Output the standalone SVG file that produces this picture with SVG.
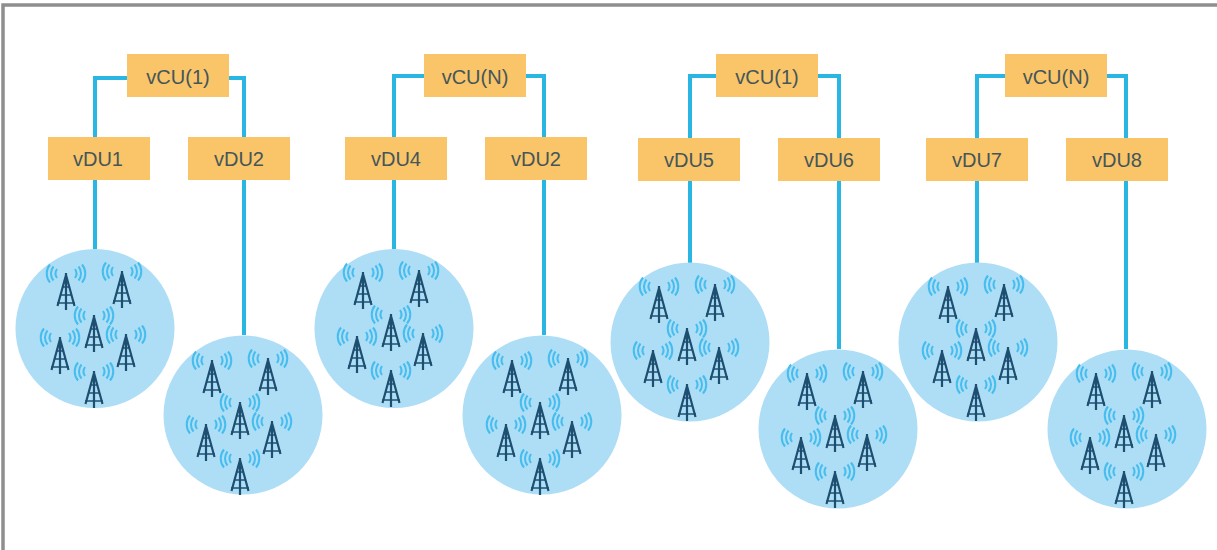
<svg xmlns="http://www.w3.org/2000/svg" width="1217" height="550" viewBox="0 0 1217 550">
<style>
.box{fill:#fac468}
.lbl{font-family:"Liberation Sans",Arial,sans-serif;font-size:20px;fill:#44565a;text-anchor:middle}
.cell{fill:#aeddf6}
.wire{fill:none;stroke:#29b6e2;stroke-width:4}
.t{fill:none;stroke:#1f4f70;stroke-width:2.200}
.t2{fill:none;stroke:#1f4f70;stroke-width:1.600}
.w{fill:none;stroke:#45bdee;stroke-width:2}
</style>
<defs>
<filter id="soft" x="-10%" y="-10%" width="120%" height="120%"><feGaussianBlur stdDeviation="0.4"/></filter>
<g id="tower" filter="url(#soft)">
<path class="t" d="M0 0V37M0 2L-8.500 33M0 2L8.500 33"/>
<path class="t2" d="M-3.500 14H3.500M-5 22H5M-9 30H9"/>
<path class="w" d="M-9 -4A8 8 0 0 0 -9 5M-12.500 -6.500A11 11 0 0 0 -12.500 7.500M-16 -8.500A14 14 0 0 0 -16 9.500M9 -4A8 8 0 0 1 9 5M12.500 -6.500A11 11 0 0 1 12.500 7.500M16 -8.500A14 14 0 0 1 16 9.500"/>
</g>
<g id="towers">
<use href="#tower" x="-29" y="-55"/>
<use href="#tower" x="27" y="-57"/>
<use href="#tower" x="-1" y="-13"/>
<use href="#tower" x="-35" y="9"/>
<use href="#tower" x="31" y="6"/>
<use href="#tower" x="-1" y="43"/>
</g>
</defs>
<rect width="1217" height="550" fill="#fff"/>
<path d="M3 550V5H1217" fill="none" stroke="#8e8e8e" stroke-width="3.500"/>
<g id="connectors">
<path class="wire" d="M127 78H95V249M228 78H244V335"/>
<path class="wire" d="M424 76H394V249M526 76H544V335"/>
<path class="wire" d="M716 76H690V263M818 76H839V349"/>
<path class="wire" d="M1005 76H977V263M1107 76H1126V349"/>
</g>
<g id="cell1"><circle class="cell" cx="95" cy="328.500" r="79.500"/><use href="#towers" x="95" y="328"/></g>
<g id="cell2"><circle class="cell" cx="243" cy="415" r="79.500"/><use href="#towers" x="241" y="415"/></g>
<g id="cell3"><circle class="cell" cx="394" cy="328.500" r="79.500"/><use href="#towers" x="392" y="327"/></g>
<g id="cell4"><circle class="cell" cx="542" cy="415" r="79.500"/><use href="#towers" x="541" y="415"/></g>
<g id="cell5"><circle class="cell" cx="690" cy="342" r="79.500"/><use href="#towers" x="688" y="341"/></g>
<g id="cell6"><circle class="cell" cx="838" cy="429" r="79.500"/><use href="#towers" x="836" y="428"/></g>
<g id="cell7"><circle class="cell" cx="978" cy="342" r="79.500"/><use href="#towers" x="977" y="341"/></g>
<g id="cell8"><circle class="cell" cx="1127" cy="429" r="79.500"/><use href="#towers" x="1125" y="428"/></g>
<g id="vcu1a"><rect class="box" x="127" y="54" width="102" height="43"/><text class="lbl" x="178" y="84">vCU(1)</text></g>
<g id="vdu1"><rect class="box" x="48" y="137" width="102" height="43"/><text class="lbl" x="98" y="166">vDU1</text></g>
<g id="vdu2a"><rect class="box" x="188" y="137" width="102" height="43"/><text class="lbl" x="239" y="166">vDU2</text></g>
<g id="vcuNa"><rect class="box" x="424" y="54" width="102" height="43"/><text class="lbl" x="475" y="84">vCU(N)</text></g>
<g id="vdu4"><rect class="box" x="345" y="137" width="102" height="43"/><text class="lbl" x="396" y="166">vDU4</text></g>
<g id="vdu2b"><rect class="box" x="485" y="137" width="102" height="43"/><text class="lbl" x="536" y="166">vDU2</text></g>
<g id="vcu1b"><rect class="box" x="716" y="54" width="102" height="43"/><text class="lbl" x="767" y="84">vCU(1)</text></g>
<g id="vdu5"><rect class="box" x="638" y="138" width="102" height="43"/><text class="lbl" x="689" y="167">vDU5</text></g>
<g id="vdu6"><rect class="box" x="778" y="138" width="102" height="43"/><text class="lbl" x="829" y="167">vDU6</text></g>
<g id="vcuNb"><rect class="box" x="1005" y="54" width="102" height="43"/><text class="lbl" x="1056" y="84">vCU(N)</text></g>
<g id="vdu7"><rect class="box" x="926" y="138" width="102" height="43"/><text class="lbl" x="977" y="167">vDU7</text></g>
<g id="vdu8"><rect class="box" x="1066" y="138" width="102" height="43"/><text class="lbl" x="1117" y="167">vDU8</text></g>
</svg>
